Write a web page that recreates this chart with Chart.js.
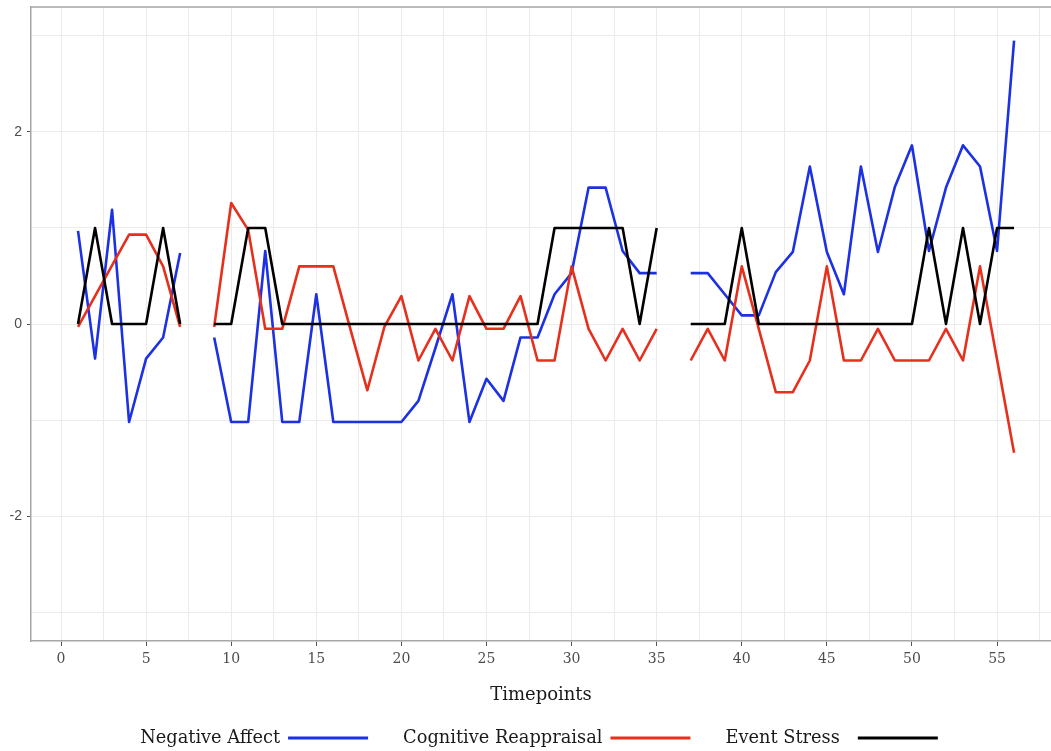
<!DOCTYPE html>
<html><head><meta charset="utf-8">
<script src="https://cdn.jsdelivr.net/npm/chart.js@4/dist/chart.umd.min.js"></script>
<style>html,body{margin:0;padding:0;background:#fff;overflow:hidden}</style>
</head><body>
<canvas id="c" width="1051" height="751"></canvas>
<script>
const timepoints = [1,2,3,4,5,6,7,8,9,10,11,12,13,14,15,16,17,18,19,20,21,22,23,24,25,26,27,28,29,30,31,32,33,34,35,36,37,38,39,40,41,42,43,44,45,46,47,48,49,50,51,52,53,54,55,56];
const negativeAffect = [0.97,-0.36,1.19,-1.02,-0.36,-0.14,0.74,null,
  -0.14,-1.02,-1.02,0.76,-1.02,-1.02,0.31,-1.02,-1.02,-1.02,-1.02,-1.02,-0.80,-0.25,0.31,-1.02,-0.57,-0.80,-0.14,-0.14,0.31,0.53,1.42,1.42,0.76,0.53,0.53,null,
  0.53,0.53,0.31,0.09,0.09,0.54,0.75,1.64,0.75,0.31,1.64,0.75,1.43,1.86,0.76,1.42,1.86,1.64,0.76,2.95];
const cognitiveReappraisal = [-0.03,0.29,0.61,0.93,0.93,0.60,-0.03,null,
  -0.03,1.26,0.98,-0.05,-0.05,0.60,0.60,0.60,-0.05,-0.69,-0.03,0.29,-0.38,-0.05,-0.38,0.29,-0.05,-0.05,0.29,-0.38,-0.38,0.60,-0.05,-0.38,-0.05,-0.38,-0.05,null,
  -0.38,-0.05,-0.38,0.60,-0.05,-0.71,-0.71,-0.38,0.60,-0.38,-0.38,-0.05,-0.38,-0.38,-0.38,-0.05,-0.38,0.60,-0.37,-1.34];
const eventStress = [0,1,0,0,0,1,0,null,
  0,0,1,1,0,0,0,0,0,0,0,0,0,0,0,0,0,0,0,0,1,1,1,1,1,0,1,null,
  0,0,0,1,0,0,0,0,0,0,0,0,0,0,1,0,1,0,1,1];
const seriesNames = ['Negative Affect','Cognitive Reappraisal','Event Stress'];
const xTickValues = [0,2.5,5,7.5,10,12.5,15,17.5,20,22.5,25,27.5,30,32.5,35,37.5,40,42.5,45,47.5,50,52.5,55,57.5];
const xTickLabels = ['0','','5','','10','','15','','20','','25','','30','','35','','40','','45','','50','','55',''];
const yTickValues = [-3,-2,-1,0,1,2,3];
const yTickLabels = ['','-2','','0','','2',''];
const xAxisTitle = 'Timepoints';

const colors = ['#1c31e3','#e6301d','#000000'];
const toPoints = arr => timepoints.map((t,i)=>({x:t,y:arr[i]}));

const frameAndLegend = {
  id:'frameAndLegend',
  afterDraw(chart){
    const {ctx, chartArea:a} = chart;
    ctx.save();
    ctx.strokeStyle='#a6a6a6'; ctx.lineWidth=1.5;
    ctx.beginPath(); ctx.moveTo(a.left, a.top); ctx.lineTo(a.right, a.top); ctx.stroke();
    // legend: text then key line
    ctx.font = '17.8px "DejaVu Serif"';
    ctx.textBaseline = 'middle';
    const keyLen = 80, gaps = [8, 8, 18], spacing = 35, y = 738;
    const items = chart.data.datasets.map((d,i)=>({label:d.label, color:d.borderColor, w:ctx.measureText(d.label).width, g:gaps[i]}));
    const total = items.reduce((s,it)=>s+it.w+it.g+keyLen,0) + spacing*(items.length-1);
    let x = (a.left+a.right)/2 - 2 - total/2;
    items.forEach(it=>{
      ctx.fillStyle='#1a1a1a';
      ctx.fillText(it.label, x, y);
      x += it.w + it.g;
      ctx.strokeStyle = it.color; ctx.lineWidth = 3;
      ctx.beginPath(); ctx.moveTo(x, y); ctx.lineTo(x+keyLen, y); ctx.stroke();
      x += keyLen + spacing;
    });
    ctx.restore();
  }
};

const zeroPad = s => { s.paddingTop=0; s.paddingBottom=0; s.paddingLeft=0; s.paddingRight=0; };

new Chart(document.getElementById('c'), {
  type:'line',
  data:{
    datasets:[
      {label:seriesNames[0], data:toPoints(negativeAffect), borderColor:colors[0], order:3},
      {label:seriesNames[1], data:toPoints(cognitiveReappraisal), borderColor:colors[1], order:2},
      {label:seriesNames[2], data:toPoints(eventStress), borderColor:colors[2], order:1}
    ].map(d=>Object.assign(d,{borderWidth:2.6, pointRadius:0, tension:0, spanGaps:false, fill:false, borderJoinStyle:'round', borderCapStyle:'butt'}))
  },
  options:{
    responsive:false, animation:false,
    layout:{padding:{top:7,left:0,right:0,bottom:45}},
    plugins:{legend:{display:false}, tooltip:{enabled:false}},
    scales:{
      x:{
        type:'linear', min:-1.763, max:58.17, bounds:'data',
        afterBuildTicks: s => { s.ticks = xTickValues.map(v=>({value:v})); },
        afterFit: s => { s.height = 65; zeroPad(s); },
        ticks:{autoSkip:false, maxRotation:0, padding:5, color:'#4d4d4d', font:{family:'"DejaVu Serif"', size:14},
          callback:(v,i)=>xTickLabels[i]},
        grid:{color:'#ebebeb', lineWidth:1, tickLength:5,
          tickColor: c => (c.tick && xTickLabels[xTickValues.indexOf(c.tick.value)]) ? '#555' : 'rgba(0,0,0,0)'},
        border:{display:true, color:'#a6a6a6', width:1.5},
        title:{display:true, text:xAxisTitle, color:'#1a1a1a', font:{family:'"DejaVu Serif"', size:18}, padding:{top:0,bottom:0}}
      },
      y:{
        type:'linear', min:-3.3, max:3.3, bounds:'data',
        afterBuildTicks: s => { s.ticks = yTickValues.map(v=>({value:v})); },
        afterFit: s => { s.width = 31; zeroPad(s); },
        ticks:{autoSkip:false, padding:5, color:'#4d4d4d', font:{family:'"Liberation Sans"', size:14},
          callback:(v,i)=>yTickLabels[i]},
        grid:{color:'#ebebeb', lineWidth:1, tickLength:4,
          tickColor: c => (c.tick && yTickLabels[yTickValues.indexOf(c.tick.value)]) ? '#555' : 'rgba(0,0,0,0)'},
        border:{display:true, color:'#a6a6a6', width:1.5}
      }
    }
  },
  plugins:[frameAndLegend]
});
</script>
</body></html>
